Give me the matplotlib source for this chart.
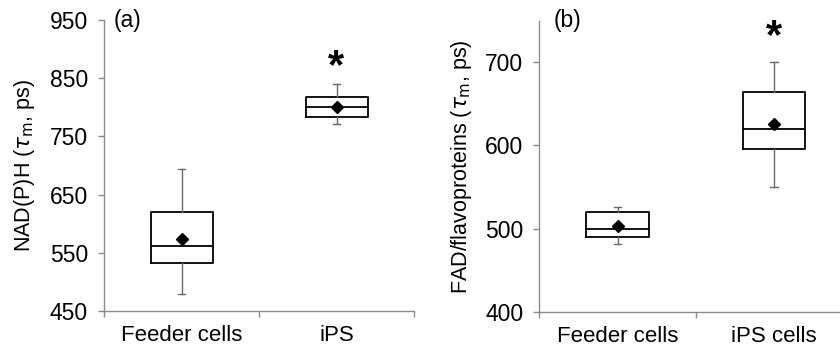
import matplotlib
matplotlib.use("Agg")
import matplotlib.pyplot as plt

plt.rcParams['font.family'] = ['Liberation Sans', 'DejaVu Sans']
plt.rcParams['mathtext.fontset'] = 'dejavusans'

# Panel (a): NAD(P)H
cats_a = ["Feeder cells", "iPS"]
whislo_a = [479, 771]
q1_a = [532, 784]
med_a = [562, 800]
q3_a = [620, 818]
whishi_a = [694, 840]
mean_a = [574, 801]
star_a = [None, 869]

# Panel (b): FAD/flavoproteins
cats_b = ["Feeder cells", "iPS cells"]
whislo_b = [481, 550]
q1_b = [490, 596]
med_b = [500, 620]
q3_b = [520, 664]
whishi_b = [526, 700]
mean_b = [503, 626]
star_b = [None, 730]

yticks_a = [450, 550, 650, 750, 850, 950]
yticks_b = [400, 500, 600, 700]

AX_GRAY = '#8c8c8c'
WH_GRAY = '#6a6a6a'

fig = plt.figure(figsize=(8.4, 3.51), dpi=100)
ax_a = fig.add_axes([104/840, 1-311/351, 310/840, 291/351])
ax_b = fig.add_axes([539.3/840, 1-311.7/351, 313/840, 291/351])


def draw(ax, cats, lo, q1, med, q3, hi, mean, star, ylim, yticks, ylabel, tag, lpad, tagx):
    stats = []
    for i in range(len(cats)):
        stats.append(dict(whislo=lo[i], q1=q1[i], med=med[i], q3=q3[i],
                          whishi=hi[i], mean=mean[i], fliers=[], label=cats[i]))
    pos = list(range(len(cats)))
    ax.bxp(stats, positions=pos, widths=0.4, showmeans=True, showfliers=False,
           patch_artist=False,
           boxprops=dict(color='black', linewidth=1.3),
           medianprops=dict(color='black', linewidth=1.3),
           whiskerprops=dict(color=WH_GRAY, linewidth=1.0),
           capprops=dict(color=WH_GRAY, linewidth=1.0),
           capwidths=0.05,
           meanprops=dict(marker='D', markerfacecolor='black',
                          markeredgecolor='black', markersize=6.5))
    for i, s in enumerate(star):
        if s is not None:
            ax.text(pos[i], s, '*', ha='center', va='center', fontsize=30,
                    fontweight='bold', color='black')
    ax.set_xlim(-0.5, len(cats) - 0.5)
    ax.set_ylim(*ylim)
    ax.set_yticks(yticks)
    ax.set_xticks(pos)
    ax.set_xticklabels(cats, fontsize=16)
    ax.set_xticks([p - 0.5 for p in pos] + [pos[-1] + 0.5], minor=True)
    ax.tick_params(axis='x', which='major', length=0, pad=10)
    ax.tick_params(axis='x', which='minor', length=4.5, color=AX_GRAY, width=1)
    ax.tick_params(axis='y', length=4.5, color=AX_GRAY, width=1, labelsize=16.5, pad=7)
    for sp in ['top', 'right']:
        ax.spines[sp].set_visible(False)
    for sp in ['left', 'bottom']:
        ax.spines[sp].set_color(AX_GRAY)
        ax.spines[sp].set_linewidth(1)
    ax.set_ylabel(ylabel, fontsize=15.5, labelpad=lpad)
    ax.text(tagx, 1.0, tag, transform=ax.transAxes, fontsize=16.5, va='center', ha='left')


draw(ax_a, cats_a, whislo_a, q1_a, med_a, q3_a, whishi_a, mean_a, star_a,
     (450, 950), yticks_a, r'NAD(P)H ($\tau_{\rm m}$, ps)', '(a)', 9.5, 0.03)
draw(ax_b, cats_b, whislo_b, q1_b, med_b, q3_b, whishi_b, mean_b, star_b,
     (400, 750), yticks_b, r'FAD/flavoproteins ($\tau_{\rm m}$, ps)', '(b)', 8, 0.045)

fig.savefig('out.png', dpi=100)
